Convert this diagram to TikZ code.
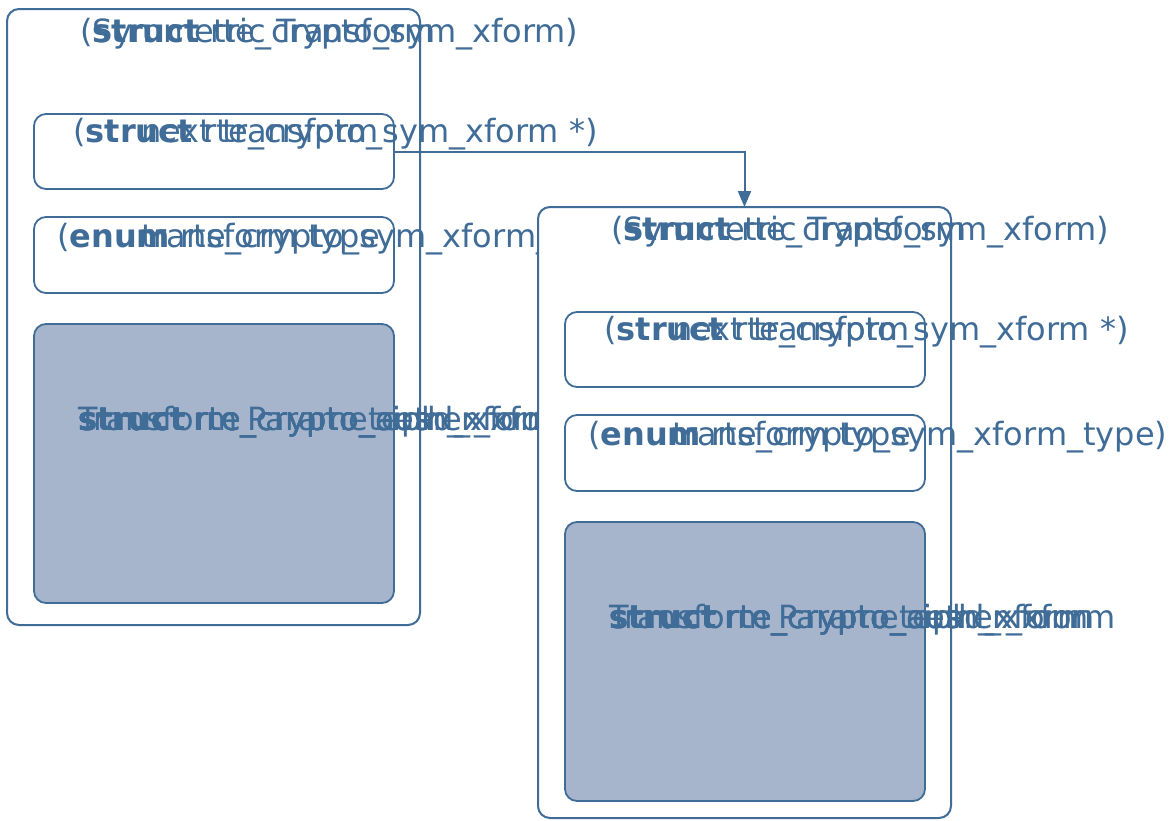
\documentclass[tikz,border=0pt]{standalone}
\usepackage{fontspec}
\setmainfont{DejaVu Sans}
\usetikzlibrary{arrows.meta}
\definecolor{ln}{RGB}{64,108,152}
\definecolor{fl}{RGB}{166,181,203}
\begin{document}
\begin{tikzpicture}[x=1pt,y=-1pt,
  outerbox/.style={draw=ln,line width=2pt,rounded corners=12pt,fill=white,inner sep=0pt,outer sep=0pt},
  fieldbox/.style={draw=ln,line width=1.8pt,rounded corners=12pt,fill=white,inner sep=0pt,outer sep=0pt,minimum width=360pt},
  parambox/.style={fieldbox,fill=fl},
  lbl/.style={anchor=base west,inner sep=0pt,text=ln,font=\fontsize{32}{32}\selectfont},
  link/.style={draw=ln,line width=2pt,-{Triangle[length=16pt,width=13pt]}}]
\useasboundingbox (0,0) rectangle (1173,820);
\fill[white] (0,0) rectangle (1173,820);
% left structure
\node[outerbox,minimum width=413pt,minimum height=616pt] (Lo) at (213.5,317) {};
\node[fieldbox,minimum height=75pt] (L1) at (214,151.5) {};
\node[fieldbox,minimum height=76pt] (L2) at (214,255) {};
\node[parambox,minimum height=279pt] (L3) at (214,463.5) {};
\node[lbl] (Lt) at (80,42) {(\rlap{Symmetric Transform}\textbf{struct} rte\_crypto\_sym\_xform)};
\node[lbl] (Lf1) at (73,142) {(\textbf{struct} rte\_crypto\_sym\_xform *)};
\node[lbl] (Lf1n) at (141,142) {next transform};
\node[lbl] (Lf2) at (57,247) {(\textbf{enum} rte\_crypto\_sym\_xform\_type)};
\node[lbl] (Lf2n) at (141,247) {transform type};
\node[lbl] (Lf3) at (78,430) {\rlap{Transform Parameters}\rlap{\textbf{struct} rte\_crypto\_cipher\_xform}\rlap{\textbf{struct} rte\_crypto\_auth\_xform}\textbf{struct} rte\_crypto\_aead\_xform};
% right structure
\node[outerbox,minimum width=413pt,minimum height=611pt] (Ro) at (744.5,512.5) {};
\node[fieldbox,minimum height=75pt] (R1) at (745,349.5) {};
\node[fieldbox,minimum height=76pt] (R2) at (745,453) {};
\node[parambox,minimum height=279pt] (R3) at (745,661.5) {};
\node[lbl] (Rt) at (611,240) {(\rlap{Symmetric Transform}\textbf{struct} rte\_crypto\_sym\_xform)};
\node[lbl] (Rf1) at (604,340) {(\textbf{struct} rte\_crypto\_sym\_xform *)};
\node[lbl] (Rf1n) at (672,340) {next transform};
\node[lbl] (Rf2) at (588,445) {(\textbf{enum} rte\_crypto\_sym\_xform\_type)};
\node[lbl] (Rf2n) at (672,445) {transform type};
\node[lbl] (Rf3) at (609,628) {\rlap{Transform Parameters}\rlap{\textbf{struct} rte\_crypto\_cipher\_xform}\rlap{\textbf{struct} rte\_crypto\_auth\_xform}\textbf{struct} rte\_crypto\_aead\_xform};
% link
\draw[link] (L1.east) -| (Ro.north);
\end{tikzpicture}
\end{document}
